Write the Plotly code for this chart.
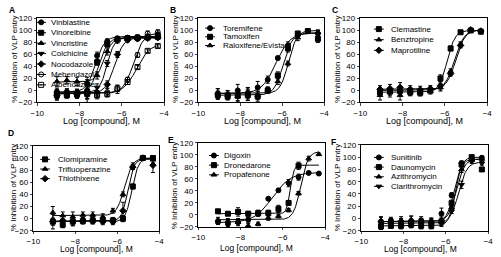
import numpy as np
import plotly.graph_objects as go

FONT = "Arial, Liberation Sans, sans-serif"
W, H = 501, 257

log_conc = [-9.07, -8.6, -8.12, -7.64, -7.17, -6.69, -6.21, -5.73, -5.26, -4.78, -4.3]
x_ticks = [-10, -8, -6, -4]
y_ticks = [-20, 0, 20, 40, 60, 80, 100, 120]
x_title = "Log [compound], M"
y_title = "% Inhibition of VLP entry"

# ---- Panel A ----
a_names = ["Vinblastine", "Vinorelbine", "Vincristine", "Colchicine", "Nocodazole", "Mebendazole", "Albendazole"]
a_symbols = ["circle", "square", "triangle-up", "triangle-down", "diamond", "circle-open-dot", "square-open-dot"]
a_vinblastine = [-2, -4, -3, 10, 58, 82, 87, 88, 89, 90, 93]
a_vinorelbine = [-6, -8, -6, -2, 47, 77, 85, 87, 88, 89, 90]
a_vincristine = [15, 17, 15, 14, 25, 65, 84, 86, 87, 88, 88]
a_colchicine = [-5, -3, -6, -4, 5, 45, 82, 86, 87, 87, 88]
a_nocodazole = [-8, -5, -7, -6, -3, 10, 60, 84, 86, 87, 88]
a_mebendazole = [-10, -6, -4, -5, -6, -3, 2, 18, 59, 95, 97]
a_albendazole = [-8, -5, -7, -6, -8, -6, 3, 14, 39, 66, 74]
a_err = [
    [6, 5, 5, 8, 6, 4, 3, 3, 3, 3, 4],
    [6, 5, 6, 12, 5, 4, 3, 3, 3, 3, 3],
    [8, 6, 7, 8, 6, 6, 3, 3, 3, 3, 3],
    [7, 6, 6, 10, 6, 5, 3, 3, 3, 3, 3],
    [8, 6, 6, 14, 8, 6, 5, 3, 3, 3, 3],
    [6, 5, 6, 8, 6, 6, 7, 4, 4, 4, 4],
    [6, 5, 6, 8, 6, 5, 5, 4, 3, 3, 3],
]
a_fit = [[-3, 90, -7.25, 2.0], [-6, 88, -7.1, 2.0], [14, 88, -6.85, 2.2], [-3, 88, -6.7, 2.5],
         [-5, 88, -6.35, 2.0], [-5, 96, -5.45, 1.8], [-5, 78, -5.3, 1.4]]

# ---- Panel B ----
b_names = ["Toremifene", "Tamoxifen", "Raloxifene/Evista"]
b_symbols = ["circle", "square", "triangle-up"]
b_toremifene = [-5, -7, 0, -4, 5, 18, 54, 75, 92, 99, 95]
b_tamoxifen = [-8, -10, -9, -8, -10, 0, 25, 70, 95, 99, 86]
b_raloxifene = [-5, -8, -10, -6, -8, 1, 15, 45, 88, 100, 97]
b_err = [
    [8, 7, 10, 9, 10, 6, 3, 6, 4, 2, 5],
    [7, 6, 8, 9, 8, 5, 6, 6, 3, 2, 6],
    [8, 7, 9, 10, 7, 5, 5, 4, 5, 2, 4],
]
b_fit = [[-5, 96, -6.3, 1.3], [-8, 96, -5.95, 2.0], [-5, 100, -5.7, 2.2]]

# ---- Panel C ----
c_names = ["Clemastine", "Benztropine", "Maprotiline"]
c_symbols = ["square", "triangle-up", "diamond"]
c_clemastine = [-3, -2, -1, -3, -4, 0, 20, 70, 97, 100, 98]
c_benztropine = [-8, -3, -8, -2, -3, -2, 5, 32, 77, 100, 100]
c_maprotiline = [2, 3, 5, 2, 1, 3, 8, 28, 75, 101, 99]
c_err = [
    [7, 6, 7, 6, 5, 4, 6, 4, 2, 2, 3],
    [8, 8, 8, 6, 6, 4, 6, 4, 4, 2, 2],
    [6, 7, 8, 6, 6, 5, 7, 4, 4, 2, 2],
]
c_fit = [[-3, 100, -5.9, 2.3], [0, 101, -5.55, 1.9], [2, 101, -5.48, 2.0]]

# ---- Panel D ----
d_names = ["Clomipramine", "Trifluoperazine", "Thiothixene"]
d_symbols = ["square", "triangle-up", "diamond"]
d_clomipramine = [-5, -10, -5, -4, -3, -3, -3, 0, 53, 100, 100]
d_trifluoperazine = [10, 5, 3, 6, 6, 3, 13, 40, 87, 100, 97]
d_thiothixene = [-5, -3, -4, -3, -3, -4, -5, 13, 85, 100, 88]
d_err = [
    [6, 5, 6, 5, 5, 5, 5, 5, 4, 2, 4],
    [10, 6, 8, 5, 5, 5, 4, 4, 5, 2, 5],
    [12, 7, 8, 5, 6, 6, 5, 14, 4, 2, 12],
]
d_fit = [[-5, 100, -5.3, 2.8], [5, 100, -5.65, 2.3], [-4, 98, -5.5, 3.0]]

# ---- Panel E ----
e_names = ["Digoxin", "Dronedarone", "Propafenone"]
e_symbols = ["circle", "square", "triangle-up"]
e_digoxin = [-12, -15, -12, -8, 2, 27, 41, 53, 63, 70, 69]
e_dronedarone = [6, 2, 5, 2, 3, 3, 10, 20, 82, None, None]
e_propafenone = [-8, -10, -12, -18, -15, -5, -2, 8, 36, 94, 101]
e_err = [
    [4, 4, 5, 4, 4, 2, 2, 6, 5, 2, 2],
    [3, 3, 7, 4, 5, 5, 6, 4, 6, 2, 2],
    [4, 4, 6, 4, 3, 4, 3, 3, 3, 4, 2],
]
e_fit = [[-13, 71, -6.5, 1.0], [2, 83, -5.65, 5.0], [-8, 106, -5.15, 2.5]]

# ---- Panel F ----
f_names = ["Sunitinib", "Daunomycin", "Azithromycin", "Clarithromycin"]
f_symbols = ["circle", "square", "triangle-up", "triangle-down"]
f_sunitinib = [-5, -3, -6, -4, -3, -5, 8, 38, 90, 97, 99]
f_daunomycin = [-13, -12, -12, -10, -12, -12, -5, 25, 88, 100, 80]
f_azithromycin = [-3, -5, -3, -2, -5, -4, -2, 18, 80, 95, 97]
f_clarithromycin = [-8, -8, -6, -9, -8, -10, -8, 12, 55, 93, 90]
f_err = [
    [7, 5, 6, 8, 6, 5, 9, 4, 4, 3, 3],
    [5, 4, 5, 5, 5, 5, 6, 5, 4, 3, 3],
    [6, 5, 6, 6, 5, 5, 6, 4, 5, 3, 3],
    [6, 5, 6, 6, 5, 6, 5, 4, 6, 3, 3],
]
f_fit = [[-5, 97, -5.6, 2.5], [-12, 100, -5.55, 2.8], [-5, 97, -5.5, 2.3], [-8, 92, -5.4, 2.2]]

panels = [
    dict(letter="A", names=a_names, symbols=a_symbols,
         values=[a_vinblastine, a_vinorelbine, a_vincristine, a_colchicine, a_nocodazole, a_mebendazole, a_albendazole],
         err=a_err, fit=a_fit),
    dict(letter="B", names=b_names, symbols=b_symbols,
         values=[b_toremifene, b_tamoxifen, b_raloxifene], err=b_err, fit=b_fit),
    dict(letter="C", names=c_names, symbols=c_symbols,
         values=[c_clemastine, c_benztropine, c_maprotiline], err=c_err, fit=c_fit),
    dict(letter="D", names=d_names, symbols=d_symbols,
         values=[d_clomipramine, d_trifluoperazine, d_thiothixene], err=d_err, fit=d_fit),
    dict(letter="E", names=e_names, symbols=e_symbols,
         values=[e_digoxin, e_dronedarone, e_propafenone], err=e_err, fit=e_fit),
    dict(letter="F", names=f_names, symbols=f_symbols,
         values=[f_sunitinib, f_daunomycin, f_azithromycin, f_clarithromycin], err=f_err, fit=f_fit),
]

# ---- layout geometry (pixels) ----
plot_px = [  # x0, x1, y_top, y_bottom
    (31, 161, 15, 102), (196, 325, 15, 102), (362, 492, 15, 102),
    (27, 156, 147, 235), (196, 326, 144, 231), (363, 493, 146, 235),
]
letter_px = [(5, 6), (170, 6), (336, 6), (4, 134), (168, 141), (335, 143)]
ytitle_px = [(7, 57), (172, 57), (338, 57), (7, 190), (172, 188), (338, 190)]
xtitle_px = [(97, 121.5), (262, 121.5), (428, 121.5), (92, 253.5), (256, 252.5), (424, 253.5)]
xtitle_size = [9, 9, 9, 8.5, 8.5, 8.5]
legend_px = [  # symbol x, text x, first y, step
    (35, 43, 19, 10.8), (208, 219, 25, 9.0), (381, 391, 26, 11.0),
    (39, 50, 161, 10.0), (212, 220, 157, 10.0), (381, 391, 159, 10.0),
]

fig = go.Figure()
annotations = []
xs_fit = np.linspace(min(log_conc), max(log_conc), 200)

for i, p in enumerate(panels):
    sfx = "" if i == 0 else str(i + 1)
    xa, ya = "x" + sfx, "y" + sfx
    for name, sym, vals, err, fit in zip(p["names"], p["symbols"], p["values"], p["err"], p["fit"]):
        bottom, top, ec50, hill = fit
        y_fit = bottom + (top - bottom) / (1 + 10 ** (hill * (ec50 - xs_fit)))
        fig.add_trace(go.Scatter(x=xs_fit, y=y_fit, mode="lines", xaxis=xa, yaxis=ya,
                                 line=dict(color="black", width=1), showlegend=False, hoverinfo="skip"))
        fig.add_trace(go.Scatter(x=log_conc, y=vals, mode="markers", xaxis=xa, yaxis=ya, name=name,
                                 marker=dict(symbol=sym, size=5, color="black",
                                             line=dict(color="black", width=1)),
                                 error_y=dict(type="data", array=err, color="black", thickness=1, width=2),
                                 showlegend=False))
    x0, x1, yt, yb = plot_px[i]
    fig.layout["xaxis" + sfx] = dict(domain=[x0 / W, x1 / W], anchor=ya, range=[-10, -4],
                                     tickvals=x_ticks, ticks="outside", ticklen=2.5, tickwidth=1,
                                     showline=True, linecolor="black", linewidth=1, mirror=True,
                                     showgrid=False, zeroline=False,
                                     tickfont=dict(family=FONT, size=8, color="black"))
    fig.layout["yaxis" + sfx] = dict(domain=[1 - yb / H, 1 - yt / H], anchor=xa, range=[-20, 120],
                                     tickvals=y_ticks, ticks="outside", ticklen=2.5, tickwidth=1,
                                     showline=True, linecolor="black", linewidth=1, mirror=True,
                                     showgrid=False, zeroline=False,
                                     tickfont=dict(family=FONT, size=8, color="black"))
    lx, ly = letter_px[i]
    annotations.append(dict(text="<b>%s</b>" % p["letter"], x=lx / W, y=1 - ly / H, xref="paper", yref="paper",
                            showarrow=False, font=dict(family=FONT, size=8.5, color="black"),
                            xanchor="center", yanchor="middle"))
    tx, ty = ytitle_px[i]
    annotations.append(dict(text=y_title, x=tx / W, y=1 - ty / H, xref="paper", yref="paper", textangle=-90,
                            showarrow=False, font=dict(family=FONT, size=8, color="black"),
                            xanchor="center", yanchor="middle"))
    tx, ty = xtitle_px[i]
    annotations.append(dict(text=x_title, x=tx / W, y=1 - ty / H, xref="paper", yref="paper",
                            showarrow=False, font=dict(family=FONT, size=xtitle_size[i], color="black"),
                            xanchor="center", yanchor="middle"))
    # legend glyphs on a pixel-space overlay axis
    sx, txx, y0, step = legend_px[i]
    for k, (name, sym) in enumerate(zip(p["names"], p["symbols"])):
        yy = y0 + k * step
        fig.add_trace(go.Scatter(x=[sx - 5, sx + 5], y=[yy, yy], mode="lines", xaxis="x7", yaxis="y7",
                                 line=dict(color="black", width=1), showlegend=False, hoverinfo="skip"))
        fig.add_trace(go.Scatter(x=[sx], y=[yy], mode="markers", xaxis="x7", yaxis="y7",
                                 marker=dict(symbol=sym, size=5, color="black",
                                             line=dict(color="black", width=1)),
                                 showlegend=False, hoverinfo="skip"))
        annotations.append(dict(text=name, x=txx / W, y=1 - yy / H, xref="paper", yref="paper",
                                showarrow=False, font=dict(family=FONT, size=8, color="black"),
                                xanchor="left", yanchor="middle"))

fig.layout["xaxis7"] = dict(domain=[0, 1], range=[0, W], visible=False, anchor="y7", fixedrange=True)
fig.layout["yaxis7"] = dict(domain=[0, 1], range=[H, 0], visible=False, anchor="x7", fixedrange=True)

fig.update_layout(width=W, height=H, margin=dict(l=0, r=0, t=0, b=0),
                  paper_bgcolor="white", plot_bgcolor="rgba(0,0,0,0)",
                  showlegend=False, annotations=annotations,
                  font=dict(family=FONT, color="black"))

fig.write_html("out.html", config={"displayModeBar": False},
               post_script="document.body.style.margin='0px';document.body.style.overflow='hidden';")
